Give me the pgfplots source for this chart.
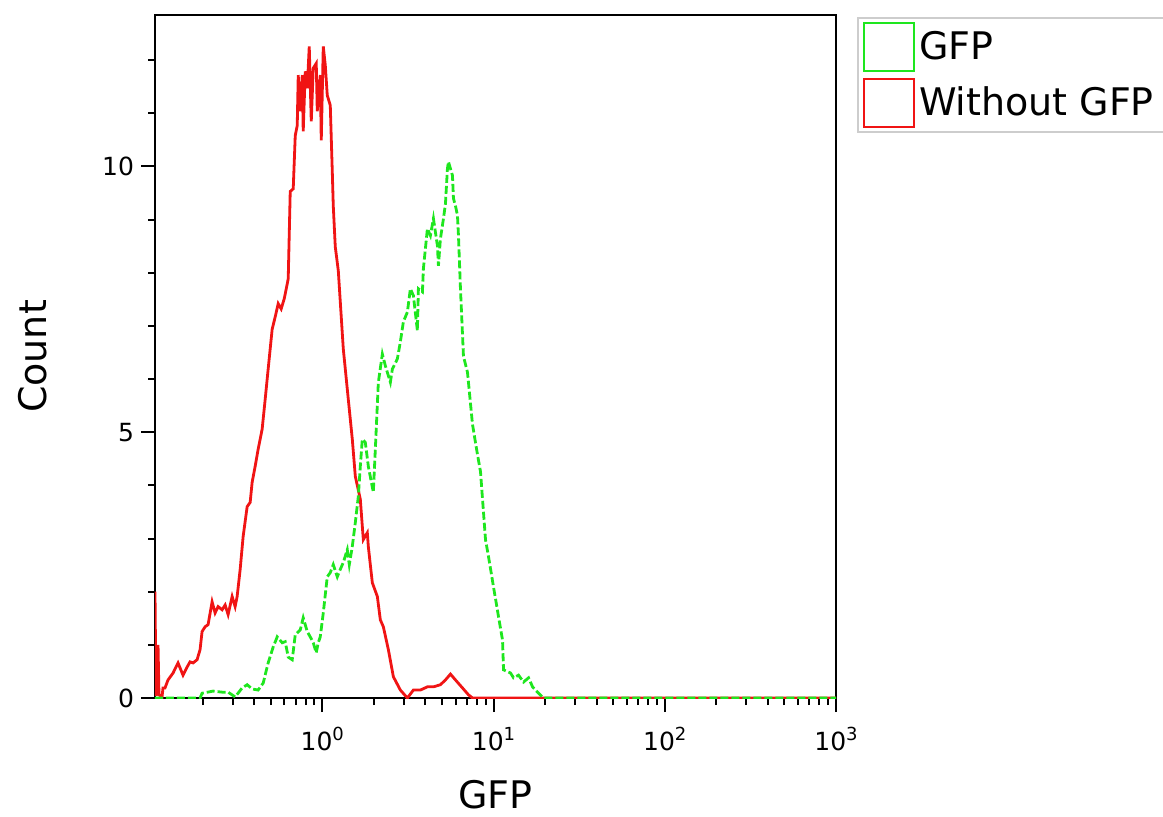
\documentclass[border=0pt]{standalone}
\usepackage{fontspec}
\setmainfont{DejaVu Sans}
\usepackage{pgfplots}
\pgfplotsset{compat=1.18}
\usetikzlibrary{calc}
\definecolor{gfpgreen}{RGB}{30,230,30}
\definecolor{nored}{RGB}{240,20,20}
\definecolor{legborder}{RGB}{205,205,205}
\newcommand{\decade}[1]{10\raisebox{5pt}{\fontsize{9}{10}\selectfont #1}}
\begin{document}
\begin{tikzpicture}
\begin{axis}[
  scale only axis, width=340.5pt, height=341.5pt,
  xmode=log, xmin=0.1055, xmax=1000,
  ymin=0, ymax=12.85,
  xtick={1,10,100,1000},
  xticklabels={\decade{0},\decade{1},\decade{2},\decade{3}},
  minor xtick={0.2,0.3,0.4,0.5,0.6,0.7,0.8,0.9,2,3,4,5,6,7,8,9,20,30,40,50,60,70,80,90,200,300,400,500,600,700,800,900},
  ytick={0,5,10}, minor ytick={1,2,3,4,6,7,8,9,11,12},
  tick pos=left, tick align=outside,
  major tick length=7pt, minor tick length=3.5pt,
  axis line style={line width=1.1pt},
  every tick/.style={black, line width=1pt},
  /pgf/number format/assume math mode=true,
  tick label style={font=\fontsize{12.5}{14}\selectfont},
  xticklabel style={yshift=-4pt},
  label style={font=\fontsize{19}{22}\selectfont},
  xlabel={GFP}, ylabel={Count},
  xlabel style={at={(axis description cs:0.5,0)}, anchor=base, yshift=-55pt},
  ylabel style={at={(axis description cs:0,0.5)}, anchor=base, yshift=54pt},
  legend style={at={(1,1)}, anchor=north west, xshift=10.5pt, yshift=-1pt,
    draw=legborder, line width=1pt, font=\fontsize{19}{22}\selectfont,
    inner xsep=2.5pt, inner ysep=2pt, row sep=3pt},
  legend cell align=left,
  legend image code/.code={\draw[#1, solid, line width=1pt, fill=none] (0pt,-12pt) rectangle (25pt,12pt);},
  reverse legend,
]
\addplot[nored, line width=1.4pt] coordinates {
(0.1055,2.00) (0.1069,0.04) (0.1099,1.00) (0.1113,0.06) (0.1160,0.02) (0.1175,0.19)
(0.1207,0.19) (0.1257,0.34) (0.1345,0.47) (0.1438,0.66) (0.1538,0.43) (0.1623,0.58)
(0.1690,0.68) (0.1760,0.66) (0.1858,0.72) (0.1934,0.91) (0.1987,1.25) (0.2069,1.34)
(0.2154,1.38) (0.2274,1.81) (0.2367,1.60) (0.2465,1.72) (0.2602,1.66) (0.2709,1.75)
(0.2820,1.57) (0.2977,1.91) (0.3099,1.72) (0.3184,1.91) (0.3316,2.42) (0.3452,3.04)
(0.3643,3.60) (0.3793,3.68) (0.3896,4.06) (0.4057,4.36) (0.4223,4.68) (0.4457,5.06)
(0.4642,5.62) (0.4832,6.19) (0.5099,6.94) (0.5311,7.17) (0.5530,7.42) (0.5756,7.32)
(0.5995,7.51) (0.6243,7.79) (0.6328,7.89) (0.6501,9.53) (0.6768,9.58) (0.6954,10.58)
(0.7143,10.77) (0.7240,11.72) (0.7438,11.04) (0.7641,11.72) (0.7743,10.66) (0.7955,11.79)
(0.8172,11.47) (0.8395,12.26) (0.8625,10.85) (0.8860,11.85) (0.9224,11.94) (0.9350,11.04)
(0.9734,11.72) (0.9866,10.49) (1.0136,12.26) (1.0412,11.91) (1.0696,11.34) (1.1138,11.15)
(1.1442,9.91) (1.1596,9.26) (1.1912,8.49) (1.2406,8.04) (1.3267,6.57) (1.4191,5.62)
(1.4976,4.87) (1.5596,4.17) (1.6681,3.74) (1.7136,3.23) (1.7369,2.98) (1.8330,3.11)
(1.8578,2.85) (1.9604,2.17) (2.0971,1.91) (2.1836,1.47) (2.2738,1.34) (2.4322,0.91)
(2.6018,0.40) (2.8577,0.15) (3.1408,0.00) (3.4055,0.15) (3.7421,0.15) (4.1115,0.21)
(4.4581,0.21) (4.8978,0.25) (5.2410,0.34) (5.6047,0.45) (5.9958,0.34) (6.5877,0.19)
(7.1420,0.06) (7.5379,0) (1000,0)
};
\addlegendentry{Without GFP\rule{8pt}{0pt}}
\addplot[gfpgreen, line width=1.4pt, dash pattern=on 4pt off 1.5pt] coordinates {
(0.1055,0) (0.1934,0) (0.1987,0.09) (0.2305,0.13) (0.2602,0.11) (0.2820,0.11)
(0.3099,0.02) (0.3406,0.19) (0.3643,0.25) (0.3896,0.17) (0.4223,0.15) (0.4518,0.28)
(0.4832,0.66) (0.5169,0.96) (0.5456,1.15) (0.5836,1.04) (0.6077,1.06) (0.6328,0.77)
(0.6679,0.72) (0.6954,1.19) (0.7438,1.28) (0.7743,1.51) (0.8172,1.25) (0.8508,1.15)
(0.8860,1.04) (0.9224,0.85) (0.9476,1.04) (0.9734,1.15) (1.0136,1.60) (1.0696,2.28)
(1.1138,2.36) (1.1596,2.51) (1.2237,2.28) (1.2743,2.42) (1.3267,2.55) (1.4000,2.79)
(1.4383,2.51) (1.4976,2.85) (1.5596,3.30) (1.6238,3.79) (1.6681,4.36) (1.7136,4.87)
(1.7842,4.81) (1.8578,4.36) (1.9870,3.87) (2.0414,4.68) (2.1256,5.94) (2.2433,6.47)
(2.3359,6.25) (2.4988,5.94) (2.5669,6.19) (2.7447,6.38) (2.8577,6.70) (2.9767,7.08)
(3.1408,7.26) (3.2700,7.70) (3.4055,7.57) (3.5938,6.91) (3.6425,7.70) (3.8446,7.64)
(3.8967,8.08) (4.1115,8.83) (4.2810,8.70) (4.4581,9.02) (4.7035,8.51) (4.7676,8.13)
(4.8978,8.64) (5.1015,9.02) (5.2410,9.30) (5.3827,9.96) (5.4556,10.09) (5.7580,9.83)
(5.8359,9.40) (5.9958,9.26) (6.1596,9.08) (6.2430,8.70) (6.4125,7.70) (6.6768,6.43)
(7.0469,6.13) (7.5379,5.15) (8.0610,4.58) (8.3946,4.26) (8.9797,2.98) (9.3498,2.66)
(10.000,2.09) (10.696,1.53) (11.289,1.09) (11.443,0.53) (12.573,0.47) (13.092,0.38)
(14.000,0.43) (14.976,0.30) (16.023,0.38) (16.907,0.21) (18.330,0.09) (19.604,0)
(1000,0)
};
\addlegendentry{GFP}
\end{axis}
\pgfresetboundingbox
\path[use as bounding box] ($(current axis.south west)+(-77.5pt,-59pt)$) rectangle ($(current axis.north east)+(163.5pt,7.5pt)$);
\end{tikzpicture}
\end{document}
